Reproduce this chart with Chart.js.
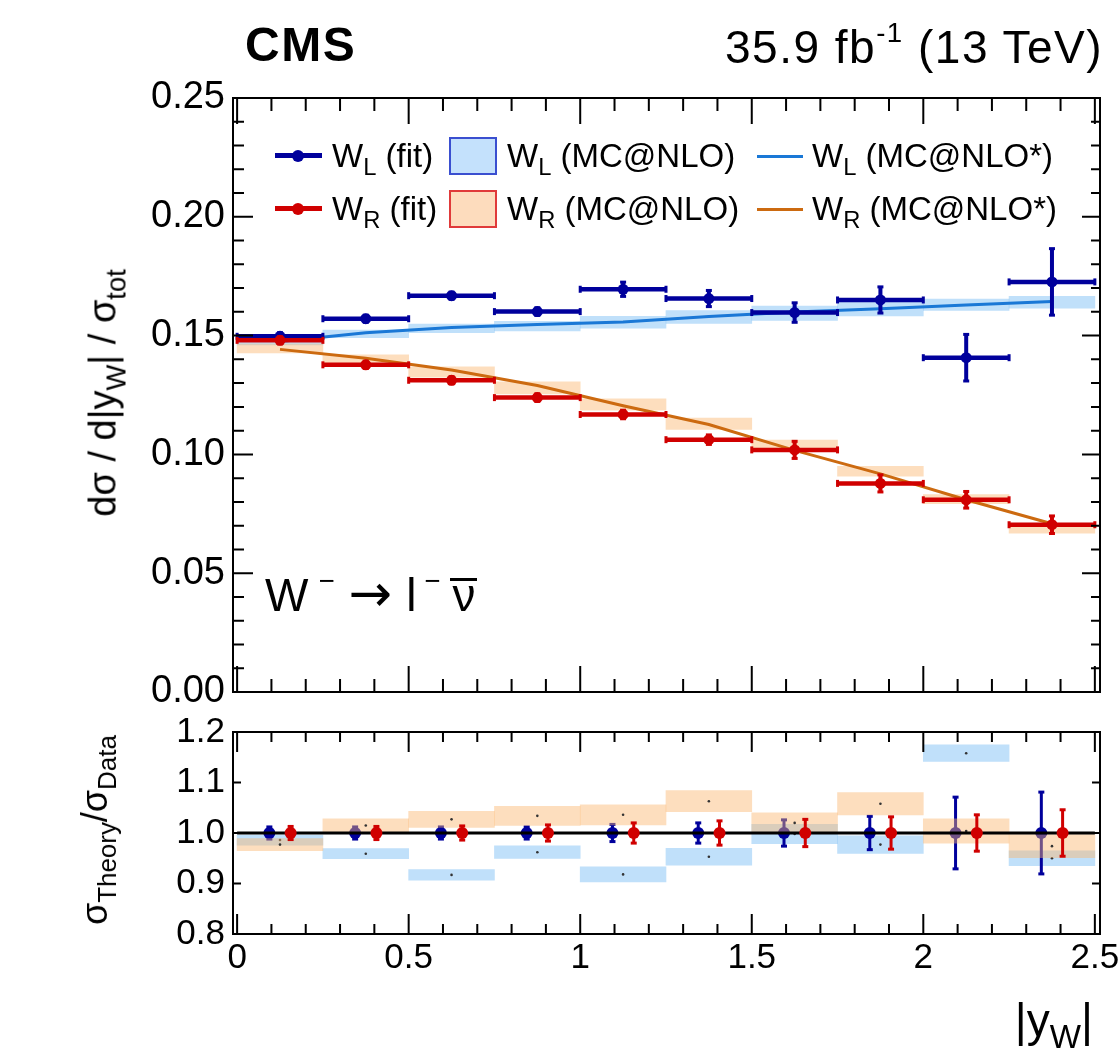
<!DOCTYPE html>
<html>
<head>
<meta charset="utf-8">
<script src="https://cdn.jsdelivr.net/npm/chart.js@4.4.0/dist/chart.umd.min.js"></script>
<style>
  body { margin: 0; background: #fff; font-family: "Liberation Sans", Arial, sans-serif; }
  #page { position: relative; width: 1118px; height: 1056px; overflow: hidden; background: #fff; }
  canvas { position: absolute; left: 0; }
  .txt { position: absolute; line-height: 0; white-space: nowrap; color: #000; z-index: 5; }
  .sub { font-size: 0.72em; position: relative; top: 0.35em; }
  .sup { font-size: 0.6em; position: relative; top: -0.75em; }
  .rot { position: absolute; white-space: nowrap; color: #000; z-index: 5;
         transform: translate(-50%, -50%) rotate(-90deg); }
  .mk { position: absolute; z-index: 5; box-sizing: border-box; }
  .nubar { display: inline-block; line-height: 0.65em; border-top: 3px solid #000; padding: 0 2px; }
</style>
</head>
<body>
<div id="page">
  <canvas id="mainChart" width="1118" height="720" style="top:0"></canvas>
  <canvas id="ratioChart" width="1118" height="356" style="top:700px"></canvas>

  <div class="txt" style="left:245px; top:45px; font-size:48px; font-weight:bold; letter-spacing:1.5px;">CMS</div>
  <div class="txt" style="right:15px; top:47px; font-size:46px; letter-spacing:1.5px;">35.9 fb<span class="sup">-1</span> (13 TeV)</div>

  <div class="rot" style="left:103px; top:393px; font-size:38px;">dσ / d|y<span class="sub">W</span>| / σ<span class="sub">tot</span></div>
  <div class="rot" style="left:95px; top:830px; font-size:36px;">σ<span class="sub">Theory</span>/σ<span class="sub">Data</span></div>
  <div class="txt" style="right:25px; top:1020px; font-size:46px;">|y<span class="sub">W</span>|</div>

  <div class="txt" style="left:265px; top:578px; font-size:46px;">W<span class="sup" style="margin-left:10px">−</span><span style="margin-left:14px; font-family:'DejaVu Sans'; font-size:52px;">→</span><span style="margin-left:14px">l</span><span class="sup" style="margin-left:8px">−</span><span class="nubar" style="margin-left:10px;">ν</span></div>

  <!-- legend -->
  <div class="mk" style="left:275px; top:153px; width:47px; height:5px; background:#00009c;"></div>
  <div class="mk" style="left:292px; top:150px; width:12px; height:12px; border-radius:6px; background:#00009c;"></div>
  <div class="txt" style="left:332px; top:156px; font-size:33px;">W<span class="sub">L</span> (fit)</div>
  <div class="mk" style="left:449px; top:137px; width:48px; height:38px; background:#c4e1fc; border:2px solid #3a4fd0;"></div>
  <div class="txt" style="left:507px; top:156px; font-size:33px;">W<span class="sub">L</span> (MC@NLO)</div>
  <div class="mk" style="left:757px; top:155px; width:46px; height:3px; background:#1a78d6;"></div>
  <div class="txt" style="left:812px; top:156px; font-size:33px;">W<span class="sub">L</span> (MC@NLO*)</div>

  <div class="mk" style="left:275px; top:206px; width:47px; height:5px; background:#d00000;"></div>
  <div class="mk" style="left:292px; top:203px; width:12px; height:12px; border-radius:6px; background:#d00000;"></div>
  <div class="txt" style="left:332px; top:209px; font-size:33px;">W<span class="sub">R</span> (fit)</div>
  <div class="mk" style="left:449px; top:190px; width:48px; height:38px; background:#fddcbd; border:2px solid #e03a3a;"></div>
  <div class="txt" style="left:507px; top:209px; font-size:33px;">W<span class="sub">R</span> (MC@NLO)</div>
  <div class="mk" style="left:757px; top:208px; width:46px; height:3px; background:#cc6a10;"></div>
  <div class="txt" style="left:812px; top:209px; font-size:33px;">W<span class="sub">R</span> (MC@NLO*)</div>
</div>

<script>
// bins of |y_W| (centres) and half width
const yBins = [0.125, 0.375, 0.625, 0.875, 1.125, 1.375, 1.625, 1.875, 2.125, 2.375];
const binHalf = 0.125;

// fitted fractions
const wlFit    = [0.1497, 0.1571, 0.1668, 0.1601, 0.1695, 0.1656, 0.1597, 0.1650, 0.1407, 0.1726];
const wlFitErr = [0.0015, 0.0015, 0.0015, 0.0016, 0.0030, 0.0034, 0.0041, 0.0055, 0.0098, 0.0140];
const wrFit    = [0.1480, 0.1377, 0.1312, 0.1239, 0.1168, 0.1062, 0.1019, 0.0878, 0.0809, 0.0704];
const wrFitErr = [0.0015, 0.0015, 0.0015, 0.0016, 0.0018, 0.0020, 0.0036, 0.0036, 0.0035, 0.0037];

// MC@NLO bands (centre, half height)
const wlMc     = [0.1476, 0.1507, 0.1530, 0.1540, 0.1556, 0.1578, 0.1594, 0.1612, 0.1630, 0.1640];
const wlMcErr  = [0.0015, 0.0016, 0.0018, 0.0020, 0.0025, 0.0027, 0.0030, 0.0029, 0.0024, 0.0025];
const wrMc     = [0.1446, 0.1398, 0.1347, 0.1280, 0.1210, 0.1129, 0.1038, 0.0929, 0.0812, 0.0688];
const wrMcErr  = [0.0019, 0.0021, 0.0022, 0.0025, 0.0024, 0.0024, 0.0022, 0.0021, 0.0019, 0.0020];

// MC@NLO* curves
const wlStar   = [0.1475, 0.1512, 0.1534, 0.1547, 0.1557, 0.1580, 0.1599, 0.1613, 0.1629, 0.1643];
const wrStar   = [0.1442, 0.1405, 0.1355, 0.1290, 0.1205, 0.1126, 0.1017, 0.0918, 0.0809, 0.0708];

// ratio panel
const fitRatio    = [1, 1, 1, 1, 1, 1, 1, 1, 1, 1];
const wlRatioErr  = [0.012, 0.012, 0.012, 0.012, 0.017, 0.020, 0.026, 0.033, 0.071, 0.081];
const wrRatioErr  = [0.013, 0.013, 0.014, 0.016, 0.020, 0.024, 0.027, 0.032, 0.036, 0.046];
const wlRatio     = [0.986, 0.959, 0.917, 0.962, 0.918, 0.953, 0.998, 0.977, 1.158, 0.950];
const wlRatioHalf = [0.010, 0.010, 0.0105, 0.0125, 0.015, 0.0165, 0.019, 0.0175, 0.0165, 0.0145];
const wrRatio     = [0.977, 1.015, 1.027, 1.034, 1.036, 1.063, 1.020, 1.058, 1.004, 0.974];
const wrRatioHalf = [0.012, 0.013, 0.016, 0.019, 0.020, 0.021, 0.020, 0.022, 0.024, 0.023];

// tick labels
const xTickValues = [0, 0.5, 1, 1.5, 2, 2.5];
const mainYTicks  = [0, 0.05, 0.10, 0.15, 0.20, 0.25];
const ratioYTicks = [0.8, 0.9, 1.0, 1.1, 1.2];

const xMin = -0.012, xMax = 2.515;
const ratioOffset = 0.031;
const FONT = '"Liberation Sans", Arial, sans-serif';

const wlColor = '#00009c';
const wrColor = '#d00000';
const bandBlue = 'rgba(129,193,245,0.5)';
const bandOrange = 'rgba(251,182,111,0.45)';

function band(xs, vals, half, color, order) {
  return {
    type: 'bar',
    data: xs.map((x, i) => ({ x: x, y: [vals[i] - half[i], vals[i] + half[i]] })),
    backgroundColor: color, borderWidth: 0, grouped: false,
    barPercentage: 1, categoryPercentage: 1, order: order
  };
}
function curve(xs, vals, color, order) {
  return {
    type: 'line', data: xs.map((x, i) => ({ x: x, y: vals[i] })),
    borderColor: color, borderWidth: 3, pointRadius: 0, tension: 0, fill: false, order: order
  };
}
function hBars(xs, vals, half, color, width, order) {
  const pts = [];
  xs.forEach((x, i) => { pts.push({ x: x - half, y: vals[i] }, { x: x + half, y: vals[i] }, { x: x, y: null }); });
  return {
    type: 'line', data: pts, borderColor: color, borderWidth: width, fill: false,
    pointStyle: 'line', pointRotation: 90, pointRadius: 3.5, pointBorderWidth: 3,
    pointBorderColor: color, order: order
  };
}
function vBars(xs, vals, errs, color, width, cap, order) {
  const pts = [];
  xs.forEach((x, i) => { pts.push({ x: x, y: vals[i] - errs[i] }, { x: x, y: vals[i] + errs[i] }, { x: x, y: null }); });
  return {
    type: 'line', data: pts, borderColor: color, borderWidth: width, fill: false,
    pointStyle: 'line', pointRotation: 0, pointRadius: cap, pointBorderWidth: 3,
    pointBorderColor: color, order: order
  };
}
function markers(xs, vals, color, r, order) {
  return {
    type: 'line', data: xs.map((x, i) => ({ x: x, y: vals[i] })), showLine: false,
    pointRadius: r, pointBackgroundColor: color, pointBorderWidth: 0, order: order
  };
}

function tickValues(from, to, step) {
  const n = Math.round((to - from) / step);
  const out = [];
  for (let i = 0; i <= n; i++) out.push(from + i * step);
  return out;
}
function isMajor(v, major) {
  return Math.abs(v / major - Math.round(v / major)) < 1e-6;
}

// ROOT style frame with inward ticks
const rootFrame = {
  id: 'rootFrame',
  afterDraw(chart, args, o) {
    const ctx = chart.ctx, a = chart.chartArea;
    const sx = chart.scales.x, sy = chart.scales.y;
    ctx.save();
    ctx.strokeStyle = '#000';
    ctx.lineWidth = 2;
    ctx.beginPath();
    tickValues(o.x[0], o.x[1], o.x[2]).forEach(v => {
      const px = sx.getPixelForValue(v);
      const len = isMajor(v, o.x[3]) ? o.xLen[0] : o.xLen[1];
      ctx.moveTo(px, a.bottom); ctx.lineTo(px, a.bottom - len);
      ctx.moveTo(px, a.top); ctx.lineTo(px, a.top + len);
    });
    tickValues(o.y[0], o.y[1], o.y[2]).forEach(v => {
      const py = sy.getPixelForValue(v);
      const major = isMajor(v - o.y[0], o.y[3]);
      ctx.moveTo(a.left, py); ctx.lineTo(a.left + (major ? o.yLenL[0] : o.yLenL[1]), py);
      ctx.moveTo(a.right, py); ctx.lineTo(a.right - (major ? o.yLenR[0] : o.yLenR[1]), py);
    });
    ctx.stroke();
    ctx.strokeRect(a.left, a.top, a.right - a.left, a.bottom - a.top);
    ctx.restore();
  }
};

function xScale(showLabels, height) {
  return {
    type: 'linear', min: xMin, max: xMax, offset: false,
    grid: { display: false, drawTicks: false }, border: { display: false },
    ticks: { display: showLabels, font: { family: FONT, size: 35, lineHeight: 1 }, color: '#000', padding: 7,
             autoSkip: false, maxRotation: 0, callback: v => String(v) },
    afterBuildTicks: s => { s.ticks = xTickValues.map(v => ({ value: v })); },
    afterFit: s => { s.height = height; s.paddingLeft = 0; s.paddingRight = 0; }
  };
}
function yScale(min, max, ticks, size, digits) {
  return {
    type: 'linear', min: min, max: max,
    grid: { display: false, drawTicks: false }, border: { display: false },
    ticks: { font: { family: FONT, size: size, lineHeight: 1 }, color: '#000', padding: 8,
             autoSkip: false, callback: v => v.toFixed(digits) },
    afterBuildTicks: s => { s.ticks = ticks.map(v => ({ value: v })); },
    afterFit: s => { s.width = 233; s.paddingTop = 0; s.paddingBottom = 0; }
  };
}

const baseOptions = {
  responsive: false,
  animation: false,
  events: []
};

// Main panel
new Chart(document.getElementById('mainChart'), {
  type: 'line',
  data: {
    datasets: [
      band(yBins, wlMc, wlMcErr, bandBlue, 20),
      band(yBins, wrMc, wrMcErr, bandOrange, 19),
      curve(yBins, wlStar, '#1a78d6', 15),
      curve(yBins, wrStar, '#cc6a10', 15),
      hBars(yBins, wlFit, binHalf, wlColor, 4.5, 12),
      vBars(yBins, wlFit, wlFitErr, wlColor, 4, 3, 11),
      markers(yBins, wlFit, wlColor, 5.5, 10),
      hBars(yBins, wrFit, binHalf, wrColor, 4.5, 8),
      vBars(yBins, wrFit, wrFitErr, wrColor, 4, 3, 7),
      markers(yBins, wrFit, wrColor, 5.5, 6)
    ]
  },
  options: Object.assign({}, baseOptions, {
    layout: { padding: { top: 98, right: 18, left: 0, bottom: 0 } },
    scales: {
      x: xScale(false, 28),
      y: yScale(0, 0.25, mainYTicks, 38, 2)
    },
    plugins: {
      legend: { display: false },
      tooltip: { enabled: false },
      rootFrame: { x: [0, 2.5, 0.1, 0.5], xLen: [26, 13], y: [0, 0.25, 0.01, 0.05], yLenL: [20, 11], yLenR: [18, 9] }
    }
  }),
  plugins: [rootFrame]
});

// Ratio panel
const wlRatioX = yBins.map(x => x - ratioOffset);
const wrRatioX = yBins.map(x => x + ratioOffset);

new Chart(document.getElementById('ratioChart'), {
  type: 'line',
  data: {
    datasets: [
      band(yBins, wlRatio, wlRatioHalf, bandBlue, 20),
      markers(yBins, wlRatio, '#333', 1.3, 19),
      vBars(wlRatioX, fitRatio, wlRatioErr, wlColor, 3, 3, 17),
      markers(wlRatioX, fitRatio, wlColor, 6, 16),
      band(yBins, wrRatio, wrRatioHalf, bandOrange, 14),
      markers(yBins, wrRatio, '#333', 1.3, 13),
      {
        type: 'line',
        data: [{ x: xTickValues[0], y: 1 }, { x: xTickValues[xTickValues.length - 1], y: 1 }],
        borderColor: '#000', borderWidth: 3, pointRadius: 0, order: 12
      },
      vBars(wrRatioX, fitRatio, wrRatioErr, wrColor, 3, 3, 10),
      markers(wrRatioX, fitRatio, wrColor, 6, 9)
    ]
  },
  options: Object.assign({}, baseOptions, {
    layout: { padding: { top: 32, right: 18, left: 0, bottom: 0 } },
    scales: {
      x: xScale(true, 122),
      y: yScale(0.8, 1.2, ratioYTicks, 35, 1)
    },
    plugins: {
      legend: { display: false },
      tooltip: { enabled: false },
      rootFrame: { x: [0, 2.5, 0.1, 0.5], xLen: [20, 10], y: [0.8, 1.2, 0.1, 0.1], yLenL: [8, 8], yLenR: [8, 8] }
    }
  }),
  plugins: [rootFrame]
});
</script>
</body>
</html>
